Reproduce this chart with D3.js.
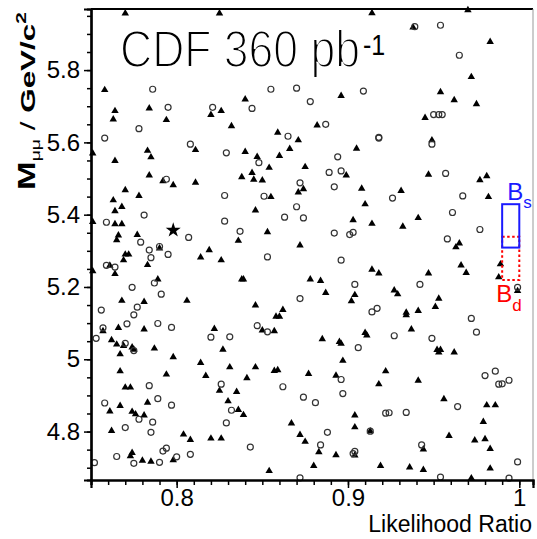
<!DOCTYPE html>
<html>
<head>
<meta charset="utf-8">
<script src="https://cdn.jsdelivr.net/npm/d3@7"></script>
<style>
  html, body { margin: 0; padding: 0; background: #fff; }
  svg { display: block; }
  text { font-family: "Liberation Sans", Arial, sans-serif; }
</style>
</head>
<body>
<svg id="chart" width="537" height="539"></svg>
<script>
// ---------------- DATA ----------------
// triangles: [likelihood ratio, mass GeV/c^2]
const triPoints = [
  [0.770,5.957],[0.825,5.957],[0.758,5.745],[0.764,5.687],[0.763,5.664],[0.784,5.694],[0.794,5.662],[0.820,5.676],[0.826,5.687],[0.832,5.645],[0.751,5.570],[0.783,5.577],[0.785,5.559],[0.811,5.579],[0.764,5.549],
  [0.914,5.958],[0.840,5.719],[0.896,5.729],[0.882,5.647],[0.859,5.627],[0.871,5.606],[0.866,5.582],[0.840,5.574],[0.860,5.563],[0.847,5.560],[0.905,5.583],
  [0.970,5.966],[0.938,5.918],[0.983,5.878],[0.972,5.781],[0.954,5.739],[0.962,5.717],[0.975,5.706],[0.945,5.668],[0.949,5.606],
  [0.784,5.509],[0.792,5.493],[0.798,5.482],[0.811,5.489],[0.770,5.468],[0.778,5.452],[0.763,5.440],[0.768,5.422],[0.764,5.410],[0.751,5.380],[0.764,5.374],[0.768,5.374],[0.777,5.344],[0.766,5.343],[0.765,5.330],[0.790,5.307],[0.819,5.302],[0.770,5.290],[0.772,5.290],[0.814,5.282],[0.826,5.274],[0.769,5.274],[0.783,5.261],[0.761,5.259],[0.751,5.244],[0.764,5.236],[0.789,5.221],[0.768,5.162],[0.781,5.159],[0.806,5.162],
  [0.854,5.530],[0.875,5.532],[0.844,5.516],[0.838,5.504],[0.845,5.497],[0.850,5.495],[0.899,5.509],[0.874,5.471],[0.871,5.462],[0.908,5.472],[0.855,5.449],[0.910,5.429],[0.846,5.412],[0.903,5.385],[0.914,5.375],[0.853,5.352],[0.836,5.328],[0.872,5.315],[0.914,5.248],[0.918,5.238],[0.838,5.221],[0.839,5.221],[0.878,5.221],[0.884,5.217],[0.887,5.184],[0.904,5.178],[0.902,5.161],[0.846,5.149],[0.862,5.137],[0.858,5.118],[0.860,5.118],
  [0.947,5.511],[0.977,5.496],[0.981,5.507],[0.931,5.466],[0.982,5.449],[0.941,5.391],[0.932,5.367],[0.965,5.321],[0.963,5.310],[0.966,5.260],[0.989,5.263],[0.969,5.239],[0.988,5.227],[0.947,5.238],[0.927,5.191],[0.929,5.180],[0.953,5.168],[0.951,5.145],[0.941,5.134],[0.934,5.129],[0.934,5.122],[0.999,5.189],
  [0.757,5.078],[0.766,5.087],[0.781,5.083],[0.762,5.053],[0.765,5.041],[0.769,5.037],[0.774,5.033],[0.775,5.027],[0.787,5.030],[0.767,5.014],[0.822,5.084],[0.827,5.027],[0.798,5.006],[0.814,4.990],[0.831,4.978],[0.767,4.967],[0.794,4.958],[0.817,4.954],[0.770,4.922],[0.773,4.922],[0.825,4.913],[0.830,4.884],[0.783,4.880],[0.767,4.871],[0.761,4.856],[0.774,4.855],[0.776,4.848],[0.781,4.845],[0.762,4.802],[0.804,4.792],[0.808,4.777],[0.820,4.781],[0.826,4.781],[0.774,4.741],[0.773,4.732],[0.780,4.720],[0.785,4.717],[0.798,4.721],
  [0.850,5.080],[0.857,5.078],[0.885,5.056],[0.895,5.048],[0.896,5.043],[0.910,5.073],[0.911,5.066],[0.846,4.978],[0.857,4.968],[0.859,4.970],[0.877,4.960],[0.893,4.955],[0.897,4.996],[0.841,4.948],[0.918,4.931],[0.835,4.910],[0.836,4.860],[0.839,4.846],[0.867,4.823],[0.904,4.845],[0.904,4.812],[0.872,4.791],[0.875,4.772],[0.883,4.743],[0.893,4.735],[0.904,4.734],[0.880,4.705],[0.854,4.691],[0.913,4.801],
  [0.937,5.083],[0.952,5.026],[0.954,5.026],[0.953,5.019],[0.962,5.019],[0.922,4.967],[0.941,4.941],[0.956,4.890],[0.981,4.873],[0.986,4.873],[0.979,4.827],[0.959,4.788],[0.974,4.776],[0.980,4.779],[0.944,4.751],[0.983,4.752],[0.919,4.705],[0.936,4.701],[0.944,4.694],[0.983,4.698],[0.972,4.671]
];
// open circles
const circPoints = [
  [0.786,5.747],[0.795,5.697],[0.821,5.697],[0.778,5.638],[0.758,5.612],[0.808,5.595],[0.829,5.571],[0.855,5.747],[0.870,5.750],[0.909,5.742],[0.844,5.694],[0.878,5.713],[0.887,5.650],[0.865,5.617],[0.918,5.612],[0.894,5.560],[0.848,5.544],[0.939,5.920],[0.954,5.924],[0.965,5.841],[0.950,5.677],[0.953,5.677],[0.955,5.677],[0.918,5.614],[0.949,5.595],
  [0.794,5.498],[0.828,5.453],[0.781,5.399],[0.759,5.379],[0.828,5.382],[0.807,5.337],[0.779,5.324],[0.790,5.312],[0.784,5.302],[0.795,5.290],[0.785,5.281],[0.759,5.260],[0.764,5.255],[0.787,5.211],[0.774,5.199],[0.791,5.180],[0.777,5.144],[0.756,5.136],[0.775,5.123],
  [0.889,5.517],[0.896,5.521],[0.872,5.488],[0.892,5.477],[0.851,5.451],[0.870,5.422],[0.863,5.393],[0.874,5.391],[0.837,5.354],[0.892,5.349],[0.901,5.345],[0.903,5.351],[0.853,5.283],[0.896,5.274],[0.904,5.207],[0.872,5.168],[0.914,5.131],[0.917,5.141],
  [0.957,5.514],[0.926,5.446],[0.967,5.452],[0.961,5.406],[0.977,5.359],[0.958,5.333],[0.942,5.207],[0.972,5.113],[0.999,5.199],
  [0.757,5.087],[0.771,5.098],[0.789,5.099],[0.797,5.088],[0.753,5.058],[0.770,5.044],[0.775,5.024],[0.820,5.061],[0.831,5.062],[0.826,4.931],[0.784,4.927],[0.789,4.891],[0.758,4.879],[0.797,4.873],[0.778,4.834],[0.786,4.826],[0.832,4.859],[0.829,4.824],[0.770,4.811],[0.785,4.798],[0.792,4.746],[0.794,4.754],[0.765,4.731],[0.800,4.730],[0.808,4.737],[0.752,4.714],[0.775,4.712],[0.790,4.715],
  [0.847,5.093],[0.853,5.076],[0.906,5.032],[0.896,4.944],[0.897,4.905],[0.862,4.924],[0.874,4.895],[0.881,4.880],[0.888,4.798],[0.884,4.763],[0.843,4.757],[0.904,4.745],[0.903,4.739],[0.872,4.672],[0.913,4.801],
  [0.975,5.075],[0.927,5.065],[0.949,5.058],[0.986,4.967],[0.980,4.955],[0.988,4.931],[0.990,4.932],[0.994,4.942],[0.964,4.869],[0.922,4.851],[0.924,4.852],[0.934,4.853],[0.943,4.763],[0.999,4.716],[0.954,4.674],[0.994,4.671]
];
const starPoints = [[0.798,5.357]];

// signal windows [lrMin, lrMax, massMin, massMax]
const bsWindow = [0.99, 1.0, 5.309, 5.429];
const bdWindow = [0.99, 1.0, 5.219, 5.339];

const xMajorTicks = [0.8, 0.9, 1.0];
const xMajorLabels = ["0.8", "0.9", "1"];
const yMajorTicks = [4.8, 5.0, 5.2, 5.4, 5.6, 5.8];
const yMajorLabels = ["4.8", "5", "5.2", "5.4", "5.6", "5.8"];
const xMinorTicks = d3.range(75, 101).map(v => v / 100);
const yMinorTicks = d3.range(94, 120).map(v => v / 20);

// ---------------- CHART ----------------
const svg = d3.select("#chart");
const L = 91, R = 533, T = 9, B = 480;
const x = d3.scaleLinear().domain([0.75, 1.008]).range([L, R]);
const y = d3.scaleLinear().domain([4.666, 5.969]).range([B, T]);

// frame (top thick, right thin)
svg.append("line").attr("x1", L).attr("x2", R).attr("y1", T).attr("y2", T)
  .attr("stroke", "#000").attr("stroke-width", 2);
svg.append("line").attr("x1", R).attr("x2", R).attr("y1", T).attr("y2", B)
  .attr("stroke", "#999").attr("stroke-width", 1);

// points
const tri = d3.symbol().type(d3.symbolTriangle).size(24);
svg.append("g").selectAll("path").data(triPoints).join("path")
  .attr("d", tri)
  .attr("transform", d => `translate(${x(d[0])},${y(d[1])})`)
  .attr("fill", "#000");
svg.append("g").selectAll("circle").data(circPoints).join("circle")
  .attr("cx", d => x(d[0])).attr("cy", d => y(d[1])).attr("r", 3)
  .attr("fill", "none").attr("stroke", "#333").attr("stroke-width", 1.2);
const star = d3.symbol().type(d3.symbolStar).size(70);
svg.append("g").selectAll("path").data(starPoints).join("path")
  .attr("d", star)
  .attr("transform", d => `translate(${x(d[0])},${y(d[1])})`)
  .attr("fill", "#000");

// signal windows
svg.append("rect")
  .attr("x", x(bdWindow[0])).attr("width", x(bdWindow[1]) - x(bdWindow[0]))
  .attr("y", y(bdWindow[3])).attr("height", y(bdWindow[2]) - y(bdWindow[3]))
  .attr("fill", "none").attr("stroke", "#ff0000").attr("stroke-width", 2)
  .attr("stroke-dasharray", "2.5,2.5");
svg.append("rect")
  .attr("x", x(bsWindow[0])).attr("width", x(bsWindow[1]) - x(bsWindow[0]))
  .attr("y", y(bsWindow[3])).attr("height", y(bsWindow[2]) - y(bsWindow[3]))
  .attr("fill", "none").attr("stroke", "#1a1aff").attr("stroke-width", 2);

const bsT = svg.append("text").attr("x", x(bsWindow[0]) + 5).attr("y", y(bsWindow[3]) - 4)
  .attr("fill", "#1a1aff").attr("font-size", 24);
bsT.append("tspan").text("B");
bsT.append("tspan").attr("font-size", 17).attr("dy", 8).text("s");
const bdT = svg.append("text").attr("x", x(bdWindow[0]) - 6).attr("y", y(bdWindow[2]) + 22)
  .attr("fill", "#ff0000").attr("font-size", 24);
bdT.append("tspan").text("B");
bdT.append("tspan").attr("font-size", 17).attr("dy", 9).text("d");

// axes
const xMinor = svg.append("g").attr("transform", `translate(0,${B})`)
  .call(d3.axisBottom(x).tickValues(xMinorTicks).tickSize(5).tickFormat(""));
const xMajor = svg.append("g").attr("transform", `translate(0,${B})`)
  .call(d3.axisBottom(x).tickValues(xMajorTicks).tickSize(8).tickPadding(1)
    .tickFormat((d, i) => xMajorLabels[i]));
const yMinor = svg.append("g").attr("transform", `translate(${L},0)`)
  .call(d3.axisLeft(y).tickValues(yMinorTicks).tickSize(4).tickFormat(""));
const yMajor = svg.append("g").attr("transform", `translate(${L},0)`)
  .call(d3.axisLeft(y).tickValues(yMajorTicks).tickSize(7).tickPadding(4)
    .tickFormat((d, i) => yMajorLabels[i]));
[xMinor, xMajor, yMinor, yMajor].forEach(g => {
  g.selectAll(".tick line").attr("stroke", "#000").attr("stroke-width", 1.5);
  g.select(".domain").attr("stroke", "#000").attr("stroke-width", 2.2);
  g.selectAll("text").attr("font-size", 24).attr("fill", "#000")
    .attr("font-family", "Liberation Sans, Arial, sans-serif");
});

// axis titles
svg.append("text").attr("x", 532).attr("y", 532).attr("text-anchor", "end")
  .attr("font-size", 23).attr("fill", "#000").text("Likelihood Ratio");

const yl = svg.append("g").attr("transform", "translate(35,190) rotate(-90)");
const ylt = yl.append("text").attr("x", 0).attr("y", 0).attr("font-weight", "bold")
  .attr("font-size", 21).attr("fill", "#000");
ylt.append("tspan").attr("font-size", 23).text("M");
ylt.append("tspan").attr("font-size", 13).attr("font-weight", "normal").attr("dy", 5).text("\u03bc\u03bc");
ylt.append("tspan").attr("dy", -5).attr("font-weight", "normal").text(" / ");
ylt.append("tspan").text("GeV/c");
ylt.append("tspan").attr("font-size", 14).attr("dy", -9).text("2");
const ylen = ylt.node().getComputedTextLength();
yl.attr("transform", `translate(35,190) rotate(-90) scale(${178 / ylen},1)`);

// title (thin strokes: white outline erodes the glyphs)
const tg = svg.append("g").attr("transform", "translate(120,67) scale(1,1.18)");
const tt = tg.append("text").attr("x", 0).attr("y", 0)
  .attr("font-family", "Noto Sans, Lato, sans-serif")
  .attr("font-size", 44).attr("fill", "#000")
  .attr("stroke", "#fff").attr("stroke-width", 1.6)
  .text("CDF 360 pb");
tt.attr("textLength", 240).attr("lengthAdjust", "spacingAndGlyphs");
tg.append("text").attr("x", 243).attr("y", -10)
  .attr("font-family", "Noto Sans, Lato, sans-serif")
  .attr("font-size", 25).attr("fill", "#000")
  .text("-1");
</script>
</body>
</html>
